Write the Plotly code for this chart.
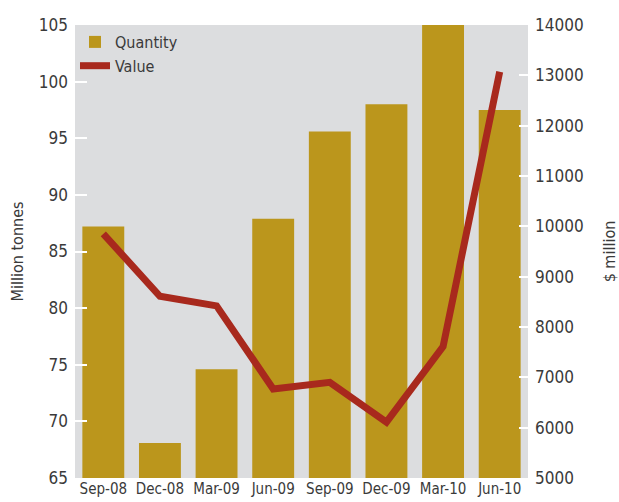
import plotly.graph_objects as go

categories = ["Sep-08", "Dec-08", "Mar-09", "Jun-09", "Sep-09", "Dec-09", "Mar-10", "Jun-10"]
quantity = [87.2, 68.1, 74.6, 87.9, 95.6, 98.0, 106.0, 97.5]
value = [9850, 8610, 8420, 6770, 6900, 6110, 7610, 13070]

FONT = "DejaVu Sans Condensed, Liberation Sans Narrow, Arial Narrow, sans-serif"
TXT = "#3a3a3a"

fig = go.Figure()
fig.add_trace(go.Bar(x=categories, y=quantity, name="Quantity", marker_color="#bb961c",
                     marker_line_width=0, yaxis="y"))
fig.add_trace(go.Scatter(x=categories, y=value, name="Value", mode="lines",
                         line=dict(color="#a8291d", width=7), yaxis="y2"))

fig.update_layout(
    width=619, height=502,
    margin=dict(l=75, r=91, t=25, b=24),
    paper_bgcolor="white", plot_bgcolor="#dcdddf",
    font=dict(family=FONT, size=16, color=TXT),
    bargap=0.26,
    showlegend=True,
    legend=dict(x=0.0, y=1.0, xanchor="left", yanchor="top", bgcolor="rgba(0,0,0,0)",
                font=dict(size=16, color=TXT), tracegroupgap=0, itemwidth=30),
    xaxis=dict(showgrid=False, zeroline=False, showline=False, ticks="", automargin=False,
               tickfont=dict(size=15, color=TXT)),
    yaxis=dict(range=[65, 105], dtick=5, showgrid=False, zeroline=False, showline=False,
               ticks="inside", ticklen=12, tickwidth=2, tickcolor="white", automargin=False,
               ticklabelstandoff=6,
               title=dict(text="Million tonnes", font=dict(size=16, color=TXT), standoff=11),
               tickfont=dict(size=17, color=TXT)),
    yaxis2=dict(range=[5000, 14000], dtick=1000, overlaying="y", side="right",
                showgrid=False, zeroline=False, showline=False, tickformat="d",
                ticks="inside", ticklen=9, tickwidth=2, tickcolor="white", automargin=False,
                ticklabelstandoff=6,
                title=dict(text="$ million", font=dict(size=16, color=TXT), standoff=24),
                tickfont=dict(size=17, color=TXT)),
)

fig.write_html("out.html", config={"displayModeBar": False},
               post_script="document.body.style.margin='0';document.body.style.overflow='hidden';")
